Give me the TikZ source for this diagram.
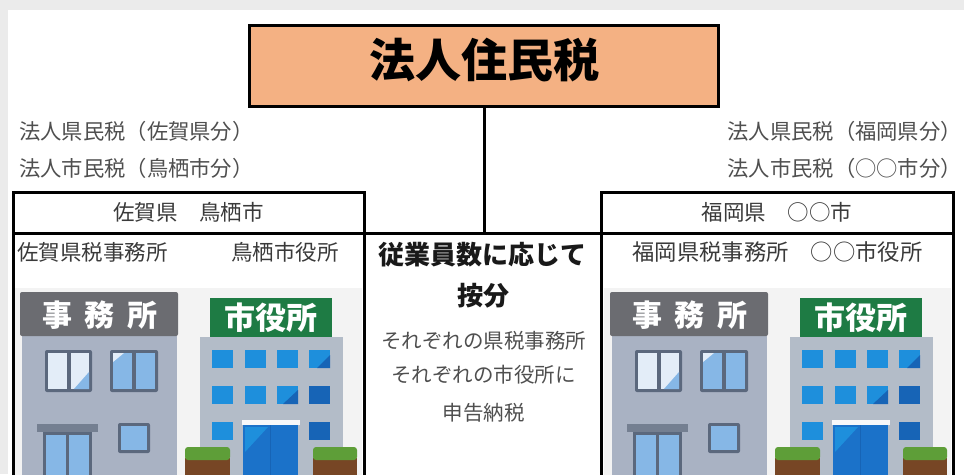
\documentclass[tikz,border=0pt]{standalone}
\usepackage{fontspec}
\newfontfamily\jp{Noto Sans CJK JP}

\definecolor{pagegray}{HTML}{EBEBEB}
\definecolor{titleorange}{HTML}{F4B183}
\definecolor{labelgray}{HTML}{4F4F4F}
\definecolor{cellgray}{HTML}{3A3A3A}
\definecolor{artbg}{HTML}{F3F3F3}
\definecolor{signgray}{HTML}{6B6C71}
\definecolor{officewall}{HTML}{A9B2C3}
\definecolor{frameslate}{HTML}{5B687D}
\definecolor{panewhite}{HTML}{E3EDF8}
\definecolor{paneblue}{HTML}{86B7E6}
\definecolor{signgreen}{HTML}{1E7B44}
\definecolor{hallwall}{HTML}{B3BCC8}
\definecolor{winblue}{HTML}{1E8FDC}
\definecolor{windark}{HTML}{1764B6}
\definecolor{doorblue}{HTML}{1B72C9}
\definecolor{shrub}{HTML}{5E9E38}
\definecolor{planter}{HTML}{774625}

\tikzset{
  frame/.style={draw=black, line width=3pt},
  titlebox/.style={frame, fill=titleorange, minimum width=469pt, minimum height=81pt, inner sep=0pt},
  titletext/.style={font=\jp\bfseries\fontsize{46pt}{46pt}\selectfont, text=black, anchor=base, inner sep=0pt},
  sidelabel/.style={font=\jp\fontsize{21.3pt}{21.3pt}\selectfont, text=labelgray, inner sep=0pt},
  celltext/.style={font=\jp\fontsize{#1}{#1}\selectfont, text=cellgray, inner sep=0pt},
  celltext/.default=21.5pt,
  boldnote/.style={font=\jp\bfseries\fontsize{26pt}{26pt}\selectfont, text=black!90, anchor=base, inner sep=0pt},
  smallnote/.style={font=\jp\fontsize{20.5pt}{20.5pt}\selectfont, text=labelgray, anchor=base, inner sep=0pt},
  signtext/.style={font=\jp\bfseries\fontsize{#1}{#1}\selectfont, text=white, anchor=base, inner sep=0pt},
}

% office building with a grey sign board
\newcommand\drawoffice[2]{%
\begin{scope}[xshift=#1]
  \fill[officewall] (22,335) rectangle (177,476);
  \fill[signgray, rounded corners=2pt] (20,292) rectangle (178,336);
  \node[signtext=30pt] (#2-offsign) at (100,326) {事\hspace{13pt}務\hspace{13pt}所};
  % upper windows
  \fill[frameslate, rounded corners=2pt] (45,350) rectangle (92,392);
  \fill[panewhite] (48,353) rectangle (66.5,389);
  \fill[panewhite] (70.5,353) rectangle (89,389);
  \fill[paneblue] (89,372) -- (89,389) -- (74,389) -- cycle;
  \fill[frameslate, rounded corners=2pt] (110,350) rectangle (158,392);
  \fill[paneblue] (113,353) rectangle (132,389);
  \fill[paneblue] (136,353) rectangle (155,389);
  \fill[panewhite] (113,353) -- (124,353) -- (113,362) -- cycle;
  % entrance and small window
  \fill[frameslate!85] (37,424) rectangle (98,432);
  \fill[frameslate] (43,432) rectangle (92,476);
  \fill[paneblue] (46,435) rectangle (66,476);
  \fill[paneblue] (69,435) rectangle (89,476);
  \fill[frameslate, rounded corners=2pt] (118,423) rectangle (150,453);
  \fill[paneblue] (121,426) rectangle (147,450);
\end{scope}}

% city hall with a green sign board
\newcommand\drawcityhall[2]{%
\begin{scope}[xshift=#1]
  \fill[hallwall] (200,337) rectangle (343,476);
  \fill[signgreen] (210,298) rectangle (332,337);
  \node[signtext=31pt] (#2-hallsign) at (271,329) {市役所};
  \foreach \wx in {212,244.5,277,309}
    \foreach \wy in {350,386}
      \fill[winblue] (\wx,\wy) rectangle ++(21,18);
  \fill[winblue] (212,422) rectangle ++(21,18);
  \fill[windark] (309,422) rectangle ++(21,18);
  \fill[windark] (309,386) rectangle ++(21,18);
  \fill[windark] (330,355) -- (330,368) -- (317,368) -- cycle;
  \fill[windark] (298,390) -- (298,404) -- (283,404) -- cycle;
  % entrance
  \fill[white!90!hallwall] (242,420) rectangle (300,425);
  \fill[doorblue] (243,425) rectangle (298,476);
  \fill[winblue] (245,427) -- (268,427) -- (245,452) -- cycle;
  \draw[windark, line width=1.5pt] (270.5,425) -- (270.5,476);
  % planters
  \fill[planter] (185,458) rectangle (230,476);
  \fill[shrub, rounded corners=3pt] (185,447) rectangle (230,460);
  \fill[planter] (313,458) rectangle (357,476);
  \fill[shrub, rounded corners=3pt] (313,447) rectangle (357,460);
\end{scope}}

\begin{document}
\begin{tikzpicture}[x=1pt, y=-1pt]
  \useasboundingbox (0,0) rectangle (964,474);
  \clip (0,0) rectangle (964,474);
  \fill[pagegray] (0,0) rectangle (964,474);
  \fill[white] (8,10) rectangle (964,474);

  % illustration backdrops
  \fill[artbg] (15,288) rectangle (362,476);
  \fill[artbg] (604,288) rectangle (951,476);

  \drawoffice{0pt}{l}
  \drawcityhall{0pt}{l}
  \drawoffice{590pt}{r}
  \drawcityhall{590pt}{r}

  % title and its connector
  \node[titlebox] (title) at (484,66) {};
  \node[titletext] (titlelabel) at (484,77.5) {法人住民税};
  \coordinate (split) at (484,233);
  \draw[frame] (title.south) -- (split);

  % table of the two prefectures
  \draw[frame] (13,478) -- (13,192) -- (364,192) -- (364,478);
  \draw[frame] (601,478) -- (601,192) -- (953,192) -- (953,478);
  \draw[frame] (13,233) -- (953,233);

  % tax shares
  \node[sidelabel, anchor=base west] (lpref) at (19,139.5) {法人県民税（佐賀県分）};
  \node[sidelabel, anchor=base west] (lcity) at (19,176.5) {法人市民税（鳥栖市分）};
  \node[sidelabel, anchor=base east] (rpref) at (962,139.5) {法人県民税（福岡県分）};
  \node[sidelabel, anchor=base east] (rcity) at (962,176.5) {法人市民税（○○市分）};

  % cell headings
  \node[celltext, anchor=base] (lhead) at (188.5,220.5) {佐賀県　鳥栖市};
  \node[celltext, anchor=base] (rhead) at (777,220.5) {福岡県　○○市};
  \node[celltext, anchor=base west] (loffice) at (17,260) {佐賀県税事務所};
  \node[celltext, anchor=base west] (lhall) at (231,260) {鳥栖市役所};
  \node[celltext=22.3pt, anchor=base] (roffices) at (777.5,260) {福岡県税事務所　○○市役所};

  % middle column
  \node[boldnote] (rule1) at (482.5,264) {従業員数に応じて};
  \node[boldnote] (rule2) at (483.5,305) {按分};
  \node[smallnote] (note1) at (483.5,348) {それぞれの県税事務所};
  \node[smallnote] (note2) at (483.5,382) {それぞれの市役所に};
  \node[smallnote] (note3) at (483.5,420) {申告納税};
\end{tikzpicture}
\end{document}
